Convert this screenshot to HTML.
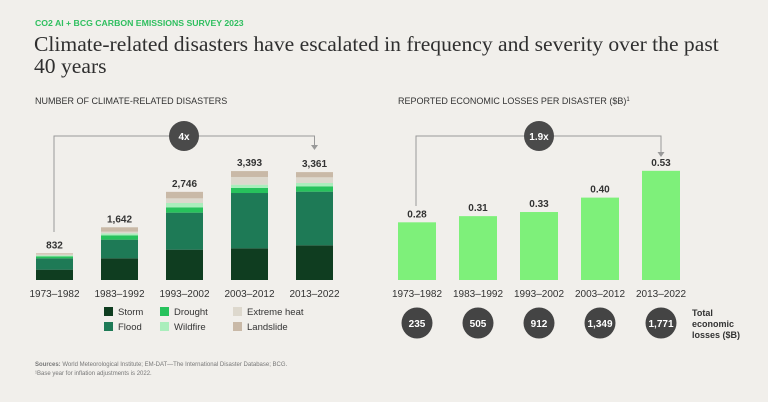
<!DOCTYPE html>
<html><head><meta charset="utf-8"><style>
body{margin:0;background:#f1efeb;}
svg{display:block;font-family:"Liberation Sans",sans-serif;}
</style></head><body>
<svg id="c" width="768" height="402" viewBox="0 0 768 402">
<rect width="768" height="402" fill="#f1efeb"/>
<text x="35" y="26" font-size="8.7" font-weight="bold" fill="#2fbf5f">CO2 AI + BCG CARBON EMISSIONS SURVEY 2023</text>
<text x="34" y="51" font-family="Liberation Serif, serif" font-size="21.6" fill="#2f2f2f">Climate-related disasters have escalated in frequency and severity over the past</text>
<text x="34" y="73" font-family="Liberation Serif, serif" font-size="21.6" fill="#2f2f2f">40 years</text>
<text x="35" y="104" font-size="9" fill="#333">NUMBER OF CLIMATE-RELATED DISASTERS</text>
<text x="398" y="104" font-size="9" fill="#333">REPORTED ECONOMIC LOSSES PER DISASTER ($B)<tspan font-size="6" dy="-3">1</tspan></text>
<g id="left"></g>
<g id="right"></g>
<text x="35" y="366" font-size="6" fill="#777"><tspan font-weight="bold">Sources:</tspan> World Meteorological Institute; EM-DAT—The International Disaster Database; BCG.</text>
<text x="35" y="375" font-size="6" fill="#777">¹Base year for inflation adjustments is 2022.</text>
</svg>
<script>
const categories=["1973–1982","1983–1992","1993–2002","2003–2012","2013–2022"];
const seriesNames=["Storm","Flood","Drought","Wildfire","Extreme heat","Landslide"];
const storm=[322,675,945,986,1080];
const flood=[353,582,1153,1724,1672];
const drought=[62,135,166,156,166];
const wildfire=[31,62,135,104,104];
const heat=[31,52,145,239,177];
const landslide=[33,136,202,184,162];
const totals=["832","1,642","2,746","3,393","3,361"];
const lossPerDisaster=[0.28,0.31,0.33,0.40,0.53];
const lossLabels=["0.28","0.31","0.33","0.40","0.53"];
const totalLosses=["235","505","912","1,349","1,771"];
const colors=["#0f3d20","#1e7a56","#27c25c","#aaeebc","#ddd8cd","#c9b9a7"];
const NS="http://www.w3.org/2000/svg";
function mk(p,t,a,txt){const e=document.createElementNS(NS,t);for(const k in a)e.setAttribute(k,a[k]);if(txt!==undefined)e.textContent=txt;p.appendChild(e);return e;}
const L=document.getElementById('left'),R=document.getElementById('right');
const base=280;
const yL=v=>base-v*0.0321;
const xL=i=>36+i*65;
const series=[storm,flood,drought,wildfire,heat,landslide];
categories.forEach((c,i)=>{
 let cum=0;
 series.forEach((s,j)=>{
  const r=mk(L,'rect',{x:xL(i),y:yL(cum+s[i]),width:37,height:s[i]*0.0321,fill:colors[j]});
  
  
  cum+=s[i];
 });
 const t=mk(L,'text',{x:xL(i)+18.5,y:yL(cum)-5,'font-size':10,'font-weight':'bold','text-anchor':'middle',fill:'#333'},totals[i]);
 
 
 const a=mk(L,'text',{x:xL(i)+18.5,y:297,'font-size':10,'text-anchor':'middle',fill:'#333'},c);
 
 
});
mk(L,'path',{d:`M54 232 V136 H314.5 V145`,fill:'none',stroke:'#999','stroke-width':1});
mk(L,'path',{d:'M311 145 L318 145 L314.5 150 Z',fill:'#999'});
mk(L,'circle',{cx:184,cy:136,r:15,fill:'#4a4a4a'});
const g1=mk(L,'text',{x:184,y:140,'font-size':10,'font-weight':'bold','text-anchor':'middle',fill:'#fff'},'4x');


const leg=[[0,104,311],[2,160,311],[4,233,311],[1,104,326],[3,160,326],[5,233,326]];
leg.forEach(([j,x,y])=>{
 const g=mk(L,'g',{});
 
 
 mk(g,'rect',{x:x,y:y-4,width:9,height:9,fill:colors[j]});
 mk(g,'text',{x:x+14,y:y+4,'font-size':9.5,fill:'#333'},seriesNames[j]);
});
const yR=v=>base-v*206;
const xR=i=>398+i*61;
categories.forEach((c,i)=>{
 const r=mk(R,'rect',{x:xR(i),y:yR(lossPerDisaster[i]),width:38,height:lossPerDisaster[i]*206,fill:'#7ef07a'});
 
 
 const t=mk(R,'text',{x:xR(i)+19,y:yR(lossPerDisaster[i])-5,'font-size':10,'font-weight':'bold','text-anchor':'middle',fill:'#333'},lossLabels[i]);
 
 
 const a=mk(R,'text',{x:xR(i)+19,y:297,'font-size':10,'text-anchor':'middle',fill:'#333'},c);
 
 
 mk(R,'circle',{cx:xR(i)+19,cy:323,r:15.5,fill:'#444'});
 const b=mk(R,'text',{x:xR(i)+19,y:327,'font-size':10,'font-weight':'bold','text-anchor':'middle',fill:'#fff'},totalLosses[i]);
 
 
});
mk(R,'path',{d:`M416 206 V136 H661 V152`,fill:'none',stroke:'#999','stroke-width':1});
mk(R,'path',{d:'M657.5 152 L664.5 152 L661 157 Z',fill:'#999'});
mk(R,'circle',{cx:539,cy:136,r:15,fill:'#4a4a4a'});
const g2=mk(R,'text',{x:539,y:140,'font-size':10,'font-weight':'bold','text-anchor':'middle',fill:'#fff'},'1.9x');


['Total','economic','losses ($B)'].forEach((s,k)=>{
 const t=mk(R,'text',{x:692,y:316+k*11,'font-size':9,'font-weight':'bold',fill:'#333'},s);
 
 
});
</script>
</body></html>
